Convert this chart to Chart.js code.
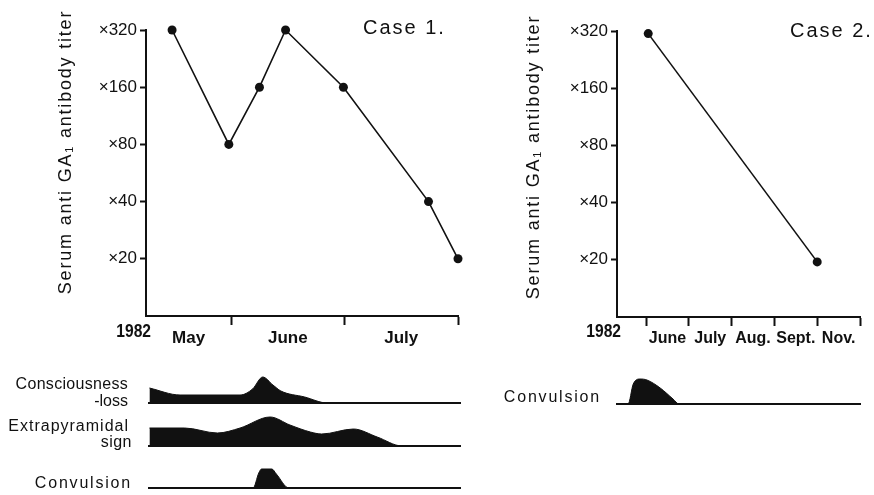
<!DOCTYPE html>
<html>
<head>
<meta charset="utf-8">
<script src="https://cdn.jsdelivr.net/npm/chart.js@4.4.0/dist/chart.umd.min.js"></script>
<style>
  html, body { margin: 0; padding: 0; background: #fff; }
  #wrap { position: relative; width: 874px; height: 495px; overflow: hidden; }
  #wrap canvas { position: absolute; }
</style>
</head>
<body>
<div id="wrap">
  <canvas id="case1-titer" width="480" height="350" style="left:0;top:0"></canvas>
  <canvas id="case2-titer" width="394" height="350" style="left:480px;top:0"></canvas>
  <canvas id="case1-conscious" width="480" height="46" style="left:0;top:371px"></canvas>
  <canvas id="case1-extra" width="480" height="46" style="left:0;top:414px"></canvas>
  <canvas id="case1-convulsion" width="480" height="46" style="left:0;top:456px"></canvas>
  <canvas id="case2-convulsion" width="394" height="46" style="left:480px;top:372px"></canvas>
</div>
<script>
// --- Case 1 : time in months counted from 1 May 1982 ---
const case1Months = ['May', 'June', 'July'];
const case1MonthEdges = [1, 2, 3];
const case1Times = [0.48, 0.98, 1.25, 1.48, 1.99, 2.74, 3.0];
const case1Titers = [320, 80, 160, 320, 160, 40, 20];

// --- Case 2 : compressed month axis, one unit per labelled month ---
const case2Months = ['June', 'July', 'Aug.', 'Sept.', 'Nov.'];
const case2MonthEdges = [0, 1, 2, 3, 4, 5];
const case2Times = [0.05, 4.0];
const case2Titers = [310, 19.5];

const titerTicks = [20, 40, 80, 160, 320];

// symptom intensity curves (arbitrary height)
const consciousnessAt = [0.28, 0.55, 1.08, 1.19, 1.28, 1.37, 1.44, 1.65, 1.85, 3.02];
const consciousnessLevel = [15, 8, 8, 14, 26, 18, 12, 6, 0, 0];
const extrapyramidalAt = [0.28, 0.59, 0.88, 1.08, 1.345, 1.52, 1.70, 1.80, 2.08, 2.29, 2.51, 3.02];
const extrapyramidalLevel = [18, 18, 13, 18, 29, 21, 14, 12, 17, 9, 0, 0];
const convulsion1At = [0.28, 1.195, 1.245, 1.27, 1.36, 1.40, 1.51, 3.02];
const convulsion1Level = [0, 0, 15, 19, 19, 14, 0, 0];
const convulsion2At = [-0.68, -0.42, -0.30, -0.14, 0.02, 0.33, 0.63, 0.77, 5.0];
const convulsion2Level = [0, 0, 20, 25, 24, 16, 5, 0, 0];

const INK = '#111';
const FAMILY = '"Liberation Sans", Arial, sans-serif';
Chart.defaults.font.family = FAMILY;
Chart.defaults.color = INK;

// free text (titles, year, row names) drawn on top of a chart
function notesPlugin(items) {
  return {
    id: 'notes',
    afterDraw(chart) {
      const ctx = chart.ctx;
      items.forEach(it => {
        ctx.save();
        ctx.font = it.font;
        ctx.fillStyle = INK;
        ctx.textAlign = it.align || 'left';
        ctx.textBaseline = it.baseline || 'alphabetic';
        ctx.letterSpacing = (it.spacing || 0) + 'px';
        ctx.translate(it.x, it.y);
        if (it.rotate) ctx.rotate(it.rotate);
        if (it.sx) ctx.scale(it.sx, 1);
        ctx.fillText(it.text, 0, 0);
        ctx.restore();
      });
    }
  };
}

/**
 * Titer chart: log y axis, month axis with boundary ticks and centred names.
 */
function drawTiterChart(canvasId, times, titers, months, edges, box, notes) {
  // month i spans bounds[i]..bounds[i+1]; a cut-off first month starts at the axis
  const bounds = edges.length > months.length ? edges : [box.min, ...edges];
  const centers = months.map((m, i) => (bounds[i] + bounds[i + 1]) / 2);
  const tickValues = [...edges, ...centers].sort((a, b) => a - b);

  return new Chart(document.getElementById(canvasId).getContext('2d'), {
    type: 'line',
    data: {
      datasets: [{
        data: times.map((t, i) => ({ x: t, y: titers[i] })),
        borderColor: INK,
        borderWidth: 1.6,
        pointRadius: 4.5,
        pointBorderWidth: 0,
        pointBackgroundColor: INK,
        tension: 0,
        clip: false
      }]
    },
    options: {
      responsive: false,
      animation: false,
      events: [],
      layout: { padding: { top: box.top, right: box.right, left: 0, bottom: 0 } },
      scales: {
        x: {
          type: 'linear',
          min: box.min,
          max: box.max,
          afterBuildTicks: s => { s.ticks = tickValues.map(v => ({ value: v })); },
          afterFit: s => { s.height = box.bottom; },
          grid: {
            drawOnChartArea: false,
            drawTicks: true,
            tickLength: 9,
            tickWidth: 2,
            tickColor: c => (c.tick && edges.includes(c.tick.value)) ? INK : 'rgba(0,0,0,0)'
          },
          border: { display: true, color: INK, width: 2 },
          ticks: {
            autoSkip: false,
            maxRotation: 0,
            padding: box.xPad,
            font: { size: box.xFont, weight: 'bold' },
            callback: v => {
              const i = centers.indexOf(v);
              return i >= 0 ? months[i] : '';
            }
          }
        },
        y: {
          type: 'logarithmic',
          min: 10,
          max: 320,
          afterBuildTicks: s => { s.ticks = titerTicks.map(v => ({ value: v })); },
          afterFit: s => { s.width = box.left; },
          grid: { drawOnChartArea: false, drawTicks: true, tickLength: 6, tickWidth: 2, tickColor: INK },
          border: { display: true, color: INK, width: 2 },
          ticks: { padding: 3, font: { size: 17 }, callback: v => '\u00d7' + v }
        }
      },
      plugins: { legend: { display: false }, tooltip: { enabled: false } }
    },
    plugins: [notesPlugin(notes)]
  });
}

/**
 * Symptom strip: filled black curve on a plain baseline.
 */
function drawSymptomChart(canvasId, xs, levels, box, notes) {
  return new Chart(document.getElementById(canvasId).getContext('2d'), {
    type: 'line',
    data: {
      datasets: [{
        data: xs.map((x, i) => ({ x: x, y: levels[i] })),
        borderColor: INK,
        borderWidth: 1,
        backgroundColor: INK,
        fill: 'origin',
        pointRadius: 0,
        cubicInterpolationMode: 'monotone'
      }]
    },
    options: {
      responsive: false,
      animation: false,
      events: [],
      layout: { padding: { top: 2, bottom: 12, left: box.left, right: box.right } },
      scales: {
        x: {
          type: 'linear', min: box.min, max: box.max,
          ticks: { display: false },
          grid: { display: false },
          border: { display: true, color: INK, width: 2 },
          afterFit: s => { s.height = 2; }
        },
        y: { display: false, min: 0, max: 30 }
      },
      plugins: { legend: { display: false }, tooltip: { enabled: false } }
    },
    plugins: [notesPlugin(notes)]
  });
}

const yTitle = 'Serum anti GA\u2081 antibody titer';

drawTiterChart('case1-titer', case1Times, case1Titers, case1Months, case1MonthEdges,
  { min: 0.25, max: 3.0, top: 30, right: 22, left: 146, bottom: 34, xPad: 3, xFont: 17 },
  [
    { text: 'Case 1.', x: 363, y: 34, font: '20px ' + FAMILY, spacing: 2 },
    { text: '1982', x: 151, y: 337, font: 'bold 19px ' + FAMILY, align: 'right', sx: 0.82 },
    { text: yTitle, x: 66, y: 152, font: '18px ' + FAMILY, align: 'center', baseline: 'middle', rotate: -Math.PI / 2, spacing: 1.8 }
  ]);

drawTiterChart('case2-titer', case2Times, case2Titers, case2Months, case2MonthEdges,
  { min: -0.68, max: 5.0, top: 31, right: 14, left: 137, bottom: 33, xPad: 3, xFont: 16 },
  [
    { text: 'Case 2.', x: 310, y: 37, font: '20px ' + FAMILY, spacing: 2 },
    { text: '1982', x: 141, y: 337, font: 'bold 19px ' + FAMILY, align: 'right', sx: 0.82 },
    { text: yTitle, x: 54, y: 157, font: '18px ' + FAMILY, align: 'center', baseline: 'middle', rotate: -Math.PI / 2, spacing: 1.8 }
  ]);

const case1Strip = { min: 0.276, max: 3.021, left: 149, right: 20 };
const case2Strip = { min: -0.68, max: 5.0, left: 137, right: 14 };

drawSymptomChart('case1-conscious', consciousnessAt, consciousnessLevel, case1Strip, [
  { text: 'Consciousness', x: 128, y: 18, font: '16px ' + FAMILY, align: 'right', spacing: 0.3 },
  { text: '-loss', x: 128, y: 35, font: '16px ' + FAMILY, align: 'right' }
]);
drawSymptomChart('case1-extra', extrapyramidalAt, extrapyramidalLevel, case1Strip, [
  { text: 'Extrapyramidal', x: 129, y: 17, font: '16px ' + FAMILY, align: 'right', spacing: 1 },
  { text: 'sign', x: 132, y: 33, font: '16px ' + FAMILY, align: 'right', spacing: 0.5 }
]);
drawSymptomChart('case1-convulsion', convulsion1At, convulsion1Level, case1Strip, [
  { text: 'Convulsion', x: 132, y: 32, font: '16px ' + FAMILY, align: 'right', spacing: 1.8 }
]);
drawSymptomChart('case2-convulsion', convulsion2At, convulsion2Level, case2Strip, [
  { text: 'Convulsion', x: 121, y: 30, font: '16px ' + FAMILY, align: 'right', spacing: 1.8 }
]);
</script>
</body>
</html>
